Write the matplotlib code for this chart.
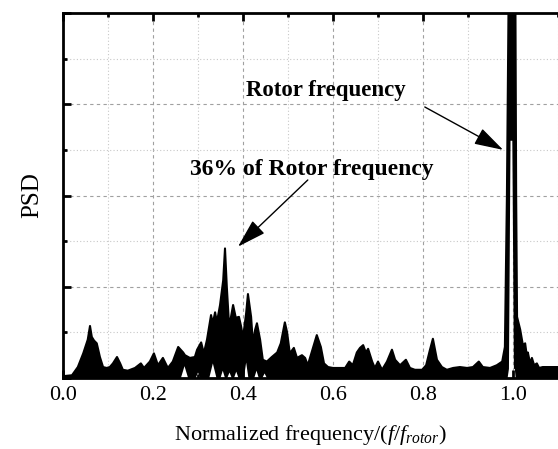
import numpy as np
import matplotlib.pyplot as plt
from matplotlib.ticker import MultipleLocator, NullFormatter

plt.rcParams["font.family"] = ["Liberation Serif", "DejaVu Serif"]
plt.rcParams["mathtext.fontset"] = "custom"
plt.rcParams["mathtext.rm"] = "Liberation Serif"
plt.rcParams["mathtext.it"] = "Liberation Serif:italic"

# upper envelope of the overlapping PSD traces (normalized freq, PSD)
FREQ_UP = [0.000, 0.020, 0.033, 0.045, 0.055, 0.060, 0.064, 0.069, 0.075, 0.082,
           0.089, 0.097, 0.104, 0.111, 0.120, 0.127, 0.133, 0.144, 0.160, 0.173,
           0.180, 0.193, 0.202, 0.211, 0.222, 0.233, 0.244, 0.256, 0.267, 0.271,
           0.282, 0.293, 0.298, 0.307, 0.313, 0.320, 0.329, 0.333, 0.338, 0.342,
           0.349, 0.356, 0.360, 0.364, 0.369, 0.373, 0.378, 0.384, 0.391, 0.396,
           0.400, 0.407, 0.411, 0.418, 0.422, 0.427, 0.431, 0.438, 0.444, 0.453,
           0.464, 0.476, 0.484, 0.493, 0.498, 0.504, 0.513, 0.520, 0.531, 0.538,
           0.544, 0.556, 0.564, 0.573, 0.580, 0.589, 0.600, 0.613, 0.627, 0.636,
           0.644, 0.653, 0.660, 0.667, 0.673, 0.678, 0.687, 0.693, 0.700, 0.709,
           0.720, 0.731, 0.738, 0.749, 0.762, 0.771, 0.782, 0.798, 0.807, 0.815,
           0.822, 0.831, 0.842, 0.853, 0.867, 0.882, 0.898, 0.911, 0.924, 0.933,
           0.949, 0.964, 0.976, 0.982, 0.9865, 0.991, 1.005, 1.007, 1.009, 1.016,
           1.022, 1.027, 1.031, 1.033, 1.038, 1.042, 1.047, 1.053, 1.058, 1.066,
           1.100]
PSD_UP = [0.02, 0.03, 0.12, 0.27, 0.42, 0.57, 0.45, 0.41, 0.38, 0.23,
          0.12, 0.11, 0.12, 0.16, 0.23, 0.16, 0.09, 0.08, 0.11, 0.16,
          0.11, 0.18, 0.27, 0.14, 0.22, 0.11, 0.18, 0.34, 0.28, 0.25,
          0.22, 0.23, 0.31, 0.39, 0.27, 0.42, 0.69, 0.60, 0.72, 0.61,
          0.80, 1.07, 1.42, 1.00, 0.58, 0.66, 0.80, 0.66, 0.67, 0.56,
          0.44, 0.71, 0.92, 0.67, 0.38, 0.53, 0.60, 0.42, 0.20, 0.18,
          0.23, 0.28, 0.38, 0.61, 0.50, 0.27, 0.33, 0.22, 0.25, 0.22,
          0.14, 0.34, 0.47, 0.34, 0.16, 0.12, 0.11, 0.11, 0.11, 0.18,
          0.14, 0.28, 0.33, 0.36, 0.28, 0.32, 0.18, 0.11, 0.18, 0.09,
          0.18, 0.31, 0.20, 0.14, 0.20, 0.11, 0.09, 0.09, 0.14, 0.30,
          0.43, 0.20, 0.12, 0.09, 0.11, 0.12, 0.11, 0.12, 0.18, 0.12,
          0.11, 0.14, 0.18, 0.34, 2.00, 4.60, 4.60, 2.00, 0.67, 0.53,
          0.36, 0.38, 0.23, 0.28, 0.16, 0.22, 0.14, 0.16, 0.11, 0.12,
          0.12]

# lower envelope: gaps where every trace stays above zero
FREQ_LO = [0.000, 0.262, 0.270, 0.278, 0.295, 0.300, 0.305, 0.325, 0.333, 0.341,
           0.350, 0.355, 0.360, 0.365, 0.370, 0.375, 0.380, 0.385, 0.390, 0.402,
           0.407, 0.412, 0.425, 0.430, 0.435, 0.443, 0.448, 0.453, 0.988, 0.991,
           0.9945, 0.9985, 1.002, 1.004, 1.006, 1.100]
PSD_LO = [0.00, 0.00, 0.13, 0.00, 0.00, 0.06, 0.00, 0.00, 0.16, 0.00,
          0.00, 0.08, 0.00, 0.00, 0.06, 0.00, 0.00, 0.07, 0.00, 0.00,
          0.17, 0.00, 0.00, 0.08, 0.00, 0.00, 0.05, 0.00, 0.00, 0.10,
          2.60, 2.60, 0.10, 0.10, 0.00, 0.00]

fig = plt.figure(figsize=(5.58, 4.49), dpi=100)
ax = fig.add_axes([63 / 558, 71 / 449, 495 / 558, 365 / 449])

poly_x = np.r_[FREQ_UP, FREQ_LO[::-1]]
poly_y = np.r_[PSD_UP, PSD_LO[::-1]]
ax.fill(poly_x, poly_y, color="black", lw=0, zorder=3)
ax.plot(FREQ_UP, PSD_UP, color="black", lw=1.5, zorder=3)

ax.set_xlim(0, 1.1)
ax.set_ylim(0, 4)
ax.xaxis.set_major_locator(MultipleLocator(0.2))
ax.xaxis.set_minor_locator(MultipleLocator(0.1))
ax.yaxis.set_major_locator(MultipleLocator(1))
ax.yaxis.set_minor_locator(MultipleLocator(0.5))
ax.yaxis.set_major_formatter(NullFormatter())
ax.xaxis.set_major_formatter(plt.FuncFormatter(lambda v, p: f"{v:.1f}"))

ax.grid(which="major", color="#a0a0a0", ls=(0, (3, 3)), lw=0.8)
ax.grid(which="minor", color="#c8c8c8", ls=(0, (1, 2)), lw=0.8)
ax.set_axisbelow(True)

ax.tick_params(which="both", direction="in", top=True, right=False, width=2,
               labelsize=16, pad=6)
ax.tick_params(which="major", length=6)
ax.tick_params(which="minor", length=3)
for side in ["left", "top", "bottom"]:
    ax.spines[side].set_linewidth(2)
ax.spines["right"].set_visible(False)

ax.set_xlabel(r"Normalized frequency/($f$/$f_{rotor}$)", fontsize=16, labelpad=13)
ax.set_ylabel("PSD", fontsize=18, labelpad=8)

arrow = dict(arrowstyle="-|>,head_length=1.0,head_width=0.3", color="black",
             lw=1.0, mutation_scale=18, shrinkA=0, shrinkB=0)
ax.annotate("", xy=(0.978, 2.50), xytext=(0.804, 2.97), arrowprops=arrow, zorder=5)
ax.text(0.585, 3.09, "Rotor frequency", fontsize=16.5, fontweight="bold",
        ha="center", va="baseline")
ax.annotate("", xy=(0.389, 1.44), xytext=(0.544, 2.17), arrowprops=arrow, zorder=5)
ax.text(0.553, 2.22, "36% of Rotor frequency", fontsize=17, fontweight="bold",
        ha="center", va="baseline")

fig.savefig("out.png", dpi=100)
